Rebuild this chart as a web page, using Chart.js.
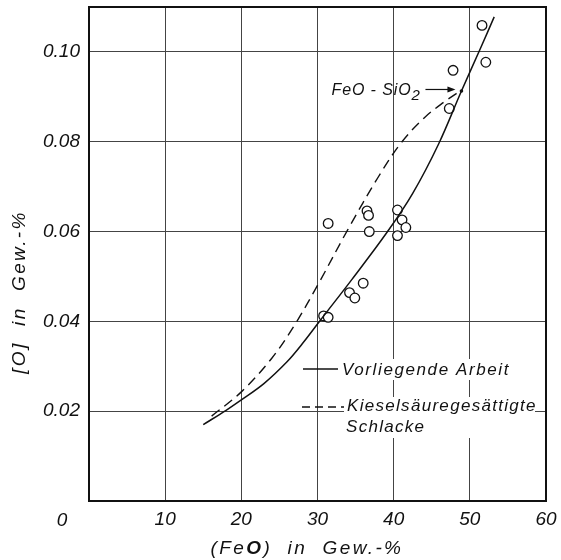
<!DOCTYPE html>
<html>
<head>
<meta charset="utf-8">
<script src="https://cdn.jsdelivr.net/npm/chart.js@4.4.0/dist/chart.umd.min.js"></script>
<style>
  html, body { margin: 0; padding: 0; background: #fff; }
  #chart { display: block; }
</style>
</head>
<body>
<canvas id="chart" width="561" height="560"></canvas>
<script>
// measured points (open circles)
var obsFeO = [51.6, 52.1, 47.8, 47.3, 36.5, 36.7, 31.4, 36.8, 40.5, 41.1, 41.6, 40.5, 36.0, 34.2, 34.9, 30.8, 31.4];
var obsO = [0.1059, 0.0977, 0.0959, 0.0874, 0.0646, 0.0636, 0.0618, 0.0600, 0.0648, 0.0626, 0.0609, 0.0591, 0.0485, 0.0464, 0.0452, 0.0412, 0.0409];

// solid curve: Vorliegende Arbeit
var arbeitFeO = [15.0, 18.0, 20.0, 23.0, 26.0, 28.0, 30.4, 34.5, 39.2, 42.5, 45.9, 48.9, 51.4, 53.2];
var arbeitO = [0.0170, 0.0202, 0.0225, 0.0262, 0.0310, 0.0350, 0.0403, 0.0493, 0.0600, 0.0685, 0.0795, 0.0913, 0.1008, 0.1078];

// dashed curve: Kieselsäuregesättigte Schlacke
var kieselFeO = [16.1, 20.0, 24.0, 27.0, 30.0, 34.0, 38.0, 41.0, 44.0, 46.5, 48.9];
var kieselO = [0.0189, 0.0243, 0.0318, 0.0392, 0.0480, 0.0605, 0.0722, 0.0798, 0.0853, 0.0887, 0.0915];

// FeO-SiO2 point
var feoSio2FeO = [48.9];
var feoSio2O = [0.0913];

var xTickValues = [10, 20, 30, 40, 50, 60];
var yTickValues = [0.02, 0.04, 0.06, 0.08, 0.10];

var FONT = "'Liberation Sans', Arial, sans-serif";

function toXY(xs, ys) {
  return xs.map(function (x, i) { return { x: x, y: ys[i] }; });
}

// draws a line of text in pieces (lets one piece be bold)
function drawPieces(ctx, pieces, x, y, spacing) {
  var cx = x;
  pieces.forEach(function (p) {
    ctx.font = (p.bold ? 'italic bold ' : 'italic ') + p.size + 'px ' + FONT;
    ctx.letterSpacing = spacing + 'px';
    ctx.fillText(p.text, cx, y + (p.dy || 0));
    cx += ctx.measureText(p.text).width;
  });
  return cx;
}

function piecesWidth(ctx, pieces, spacing) {
  var w = 0;
  pieces.forEach(function (p) {
    ctx.font = (p.bold ? 'italic bold ' : 'italic ') + p.size + 'px ' + FONT;
    ctx.letterSpacing = spacing + 'px';
    w += ctx.measureText(p.text).width;
  });
  return w;
}

var decorPlugin = {
  id: 'decor',
  afterDatasetsDraw: function (chart) {
    var ctx = chart.ctx;
    var area = chart.chartArea;
    var xs = chart.scales.x, ys = chart.scales.y;
    ctx.save();

    // legend boxes and text
    ctx.fillStyle = '#fff';
    ctx.fillRect(340, 359, 174, 21);
    ctx.fillRect(344, 397, 191, 41);

    ctx.strokeStyle = '#111';
    ctx.lineWidth = 1.4;
    ctx.beginPath();
    ctx.moveTo(303, 369); ctx.lineTo(338, 369);
    ctx.stroke();
    ctx.setLineDash([8, 5]);
    ctx.beginPath();
    ctx.moveTo(302, 407); ctx.lineTo(344, 407);
    ctx.stroke();
    ctx.setLineDash([]);

    ctx.fillStyle = '#111';
    ctx.textAlign = 'left';
    ctx.textBaseline = 'alphabetic';
    drawPieces(ctx, [{ text: 'Vorliegende Arbeit', size: 17 }], 342, 375, 1.6);
    drawPieces(ctx, [{ text: 'Kieselsäuregesättigte', size: 17 }], 347, 411, 1.3);
    drawPieces(ctx, [{ text: 'Schlacke', size: 17 }], 346, 432, 1.3);

    // FeO - SiO2 annotation with arrow
    var px = xs.getPixelForValue(feoSio2FeO[0]);
    var py = ys.getPixelForValue(feoSio2O[0]);
    drawPieces(ctx, [
      { text: 'FeO - SiO', size: 16 },
      { text: '2', size: 15, dy: 5 }
    ], px - 130, py + 4, 0.9);
    ctx.lineWidth = 1.2;
    ctx.beginPath();
    ctx.moveTo(px - 36, py - 1.5);
    ctx.lineTo(px - 8, py - 1.5);
    ctx.stroke();
    ctx.beginPath();
    ctx.moveTo(px - 6, py - 1.5);
    ctx.lineTo(px - 14, py - 4.5);
    ctx.lineTo(px - 14, py + 1.5);
    ctx.closePath();
    ctx.fill();

    // frame
    ctx.lineWidth = 2;
    ctx.strokeStyle = '#111';
    ctx.strokeRect(area.left, area.top, area.right - area.left, area.bottom - area.top);

    // shared origin label
    ctx.letterSpacing = '0px';
    ctx.font = 'italic 19px ' + FONT;
    ctx.textAlign = 'center';
    ctx.fillText('0', 62, 526);

    // axis titles
    ctx.textAlign = 'left';
    var xt = [
      { text: '(Fe', size: 19 },
      { text: 'O', size: 19, bold: true },
      { text: ')  in  Gew.-%', size: 19 }
    ];
    var w = piecesWidth(ctx, xt, 2.4);
    drawPieces(ctx, xt, 307 - w / 2, 554, 2.4);

    ctx.translate(25, 292);
    ctx.rotate(-Math.PI / 2);
    var yt = [{ text: '[O]  in  Gew.-%', size: 19 }];
    var wy = piecesWidth(ctx, yt, 2.4);
    drawPieces(ctx, yt, -wy / 2, 0, 2.4);

    ctx.restore();
  }
};

new Chart(document.getElementById('chart'), {
  type: 'scatter',
  data: {
    datasets: [
      {
        label: 'Vorliegende Arbeit',
        data: toXY(arbeitFeO, arbeitO),
        showLine: true,
        borderColor: '#111',
        borderWidth: 1.5,
        pointRadius: 0,
        tension: 0.35
      },
      {
        label: 'Kieselsäuregesättigte Schlacke',
        data: toXY(kieselFeO, kieselO),
        showLine: true,
        borderColor: '#111',
        borderWidth: 1.4,
        borderDash: [10, 6],
        pointRadius: 0,
        tension: 0.35
      },
      {
        label: 'Messwerte',
        data: toXY(obsFeO, obsO),
        pointStyle: 'circle',
        pointRadius: 4.8,
        pointBackgroundColor: '#fff',
        pointBorderColor: '#111',
        pointBorderWidth: 1.3
      },
      {
        label: 'FeO - SiO2',
        data: toXY(feoSio2FeO, feoSio2O),
        pointRadius: 1.8,
        pointBackgroundColor: '#111',
        pointBorderColor: '#111',
        pointBorderWidth: 0
      }
    ]
  },
  options: {
    responsive: false,
    animation: false,
    devicePixelRatio: 1,
    layout: { padding: { top: 7, right: 15, left: 0, bottom: 0 } },
    plugins: { legend: { display: false }, tooltip: { enabled: false } },
    scales: {
      x: {
        type: 'linear',
        min: 0,
        max: 60,
        afterBuildTicks: function (scale) {
          scale.ticks = xTickValues.map(function (v) { return { value: v }; });
        },
        afterFit: function (scale) {
          scale.height = 59;
          scale.paddingLeft = 0;
          scale.paddingRight = 0;
        },
        grid: { color: '#444', lineWidth: 1, drawTicks: false },
        border: { display: false },
        ticks: {
          padding: 7,
          color: '#111',
          maxRotation: 0,
          font: { family: FONT, size: 19, style: 'italic' },
          callback: function (v) { return String(v); }
        }
      },
      y: {
        type: 'linear',
        min: 0,
        max: 0.11,
        afterBuildTicks: function (scale) {
          scale.ticks = yTickValues.map(function (v) { return { value: v }; });
        },
        afterFit: function (scale) {
          scale.width = 89;
          scale.paddingTop = 0;
          scale.paddingBottom = 0;
        },
        grid: { color: '#444', lineWidth: 1, drawTicks: false },
        border: { display: false },
        ticks: {
          padding: 9,
          color: '#111',
          font: { family: FONT, size: 19, style: 'italic' },
          callback: function (v) { return v.toFixed(2); }
        }
      }
    }
  },
  plugins: [decorPlugin]
});
</script>
</body>
</html>
